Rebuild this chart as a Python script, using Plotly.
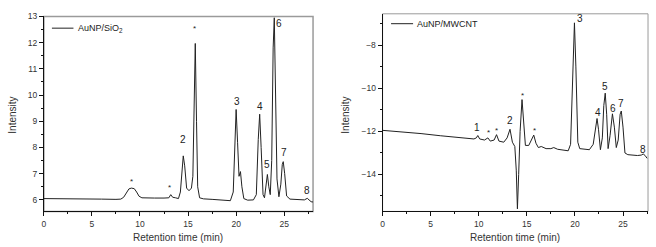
import plotly.graph_objects as go

# ---- data: AuNP/SiO2 chromatogram (left panel) ----
sio2_time = [0, 2, 4, 6, 7.5, 8.0, 8.3, 8.6, 8.85, 9.1, 9.4, 9.65, 9.9, 10.2, 10.6, 11.5, 12.5,
             13.0, 13.2, 13.4, 13.7, 14.0, 14.2, 14.35, 14.5, 14.65, 14.85, 15.1, 15.35, 15.5,
             15.62, 15.75, 15.88, 16.0, 16.2, 16.6, 17.5, 18.5, 19.4, 19.7, 19.85, 20.0, 20.15,
             20.3, 20.45, 20.6, 20.8, 21.2, 21.8, 22.1, 22.3, 22.45, 22.6, 22.8, 22.95, 23.1,
             23.25, 23.4, 23.55, 23.7, 23.85, 23.97, 24.1, 24.25, 24.45, 24.65, 24.8, 24.9,
             25.05, 25.25, 25.6, 26.5, 27.1, 27.4, 27.65, 27.8, 28.0]
sio2_int = [6.05, 6.05, 6.04, 6.03, 6.02, 6.03, 6.1, 6.3, 6.42, 6.45, 6.43, 6.3, 6.14, 6.08, 6.07,
            6.07, 6.07, 6.08, 6.2, 6.1, 6.08, 6.05, 6.3, 7.1, 7.68, 7.3, 6.45, 6.35, 6.45, 6.9,
            9.8, 11.97, 9.0, 6.5, 6.08, 6.04, 6.02, 5.99, 5.97, 6.3, 8.2, 9.45, 8.2, 6.9, 7.08,
            6.5, 6.05, 5.99, 6.0, 6.2, 8.3, 9.27, 8.0, 6.2, 6.08, 6.6, 6.97, 6.5, 6.2, 7.5, 11.8,
            12.95, 10.5, 6.8, 6.12, 6.6, 7.35, 7.46, 7.0, 6.15, 6.03, 6.0, 6.0, 6.06, 6.0, 5.93, 5.92]
sio2_labels = ["*", "*", "2", "*", "3", "4", "5", "6", "7", "8"]
sio2_label_x = [9.16, 13.1, 14.5, 15.7, 20.05, 22.48, 23.2, 24.45, 25.0, 27.4]
sio2_label_y = [6.72, 6.47, 8.32, 12.55, 9.74, 9.57, 7.34, 12.75, 7.8, 6.36]

# ---- data: AuNP/MWCNT chromatogram (right panel) ----
mwcnt_time = [0, 2, 4, 6, 8, 9.5, 9.75, 9.9, 10.1, 10.6, 10.95, 11.2, 11.6, 11.85, 12.1, 12.6,
              12.95, 13.25, 13.5, 13.75, 13.9, 14.02, 14.15, 14.3, 14.5, 14.65, 14.85, 15.2, 15.5,
              15.72, 15.95, 16.2, 16.5, 17.0, 17.5, 17.8, 18.2, 19.3, 19.55, 19.75, 19.95, 20.1,
              20.3, 20.5, 21.5, 21.9, 22.15, 22.3, 22.45, 22.65, 22.85, 23.0, 23.15, 23.3, 23.45,
              23.65, 23.9, 24.1, 24.3, 24.5, 24.7, 24.82, 25.0, 25.2, 25.5, 26.5, 26.9, 27.1,
              27.3, 27.5]
mwcnt_int = [-11.95, -12.02, -12.1, -12.2, -12.28, -12.35, -12.3, -12.19, -12.35, -12.4, -12.3,
             -12.45, -12.4, -12.15, -12.45, -12.5, -12.3, -11.9, -12.5, -12.7, -13.8, -15.6,
             -14.0, -12.0, -10.52, -11.5, -12.65, -12.65, -12.4, -12.17, -12.55, -12.75, -12.7,
             -12.8, -12.8, -12.75, -12.83, -12.9, -12.6, -9.5, -6.95, -9.0, -12.5, -12.8, -12.85,
             -12.6, -11.7, -11.4, -11.9, -12.85, -12.3, -10.8, -10.22, -11.2, -12.8, -12.2,
             -11.18, -11.8, -12.75, -12.4, -11.2, -11.05, -11.8, -13.0, -13.08, -13.12, -13.1,
             -13.05, -13.12, -13.25]
mwcnt_labels = ["1", "*", "*", "2", "*", "*", "3", "4", "5", "6", "7", "8"]
mwcnt_label_x = [9.84, 11.0, 11.86, 13.3, 14.54, 15.78, 20.48, 22.35, 23.17, 24.0, 24.83, 27.1]
mwcnt_label_y = [-11.81, -12.05, -11.95, -11.5, -10.35, -11.95, -6.75, -11.1, -9.9, -10.92, -10.68, -12.83]

FONT = "Liberation Sans, Arial, sans-serif"
LINE = "#222222"
TXT = "#333333"

fig = go.Figure()
fig.add_trace(go.Scatter(x=sio2_time, y=sio2_int, mode="lines", name="AuNP/SiO<sub>2</sub>",
                         line=dict(color=LINE, width=1), xaxis="x", yaxis="y", showlegend=False))
fig.add_trace(go.Scatter(x=mwcnt_time, y=mwcnt_int, mode="lines", name="AuNP/MWCNT",
                         line=dict(color=LINE, width=1), xaxis="x2", yaxis="y2", showlegend=False))

axis_common = dict(showline=True, linecolor="#111", linewidth=1, ticks="outside", ticklen=4,
                   tickcolor="#111", showgrid=False, zeroline=False,
                   tickfont=dict(family=FONT, size=8.5, color=TXT))
minor_common = dict(ticklen=2, ticks="outside", tickcolor="#111")

fig.update_layout(
    width=656, height=247, margin=dict(l=0, r=0, t=0, b=0),
    paper_bgcolor="white", plot_bgcolor="white", showlegend=False,
    xaxis=dict(domain=[0.064, 0.4756], range=[0, 28], tick0=0, dtick=5,
               minor=dict(dtick=2.5, **minor_common), anchor="y", **axis_common),
    yaxis=dict(domain=[0.147, 0.9526], range=[5.56, 13], tick0=6, dtick=1,
               minor=dict(dtick=0.5, **minor_common), anchor="x", **axis_common),
    xaxis2=dict(domain=[0.5819, 0.9878], range=[0, 27.6], tick0=0, dtick=5,
                minor=dict(dtick=2.5, **minor_common), anchor="y2", **axis_common),
    yaxis2=dict(domain=[0.147, 0.9636], range=[-15.72, -6.53], tick0=-14, dtick=2,
                minor=dict(dtick=1, **minor_common), anchor="x2", **axis_common),
)

# axis titles
title_font = dict(family=FONT, size=10, color=TXT)
for xc in (177 / 656, 515 / 656):
    fig.add_annotation(xref="paper", yref="paper", x=xc, y=1 - 237.5 / 247, text="Retention time (min)",
                       showarrow=False, xanchor="center", yanchor="middle", font=title_font)
for xc in (11 / 656, 345 / 656):
    fig.add_annotation(xref="paper", yref="paper", x=xc, y=1 - 112 / 247, text="Intensity", textangle=-90,
                       showarrow=False, xanchor="center", yanchor="middle", font=title_font)

# light frame (top/right) like the original
fig.add_shape(type="rect", xref="x domain", yref="y domain", x0=0, x1=1, y0=0, y1=1,
              line=dict(color="#9a9a9a", width=1.5), layer="below")
fig.add_shape(type="rect", xref="x2 domain", yref="y2 domain", x0=0, x1=1, y0=0, y1=1,
              line=dict(color="#9a9a9a", width=1), layer="below")

# legends (line sample + text)
fig.add_shape(type="line", xref="x domain", yref="y domain", x0=0.03, x1=0.11, y0=0.94, y1=0.94,
              line=dict(color=LINE, width=1))
fig.add_annotation(xref="x domain", yref="y domain", x=0.118, y=0.94, xanchor="left", yanchor="middle",
                   text="AuNP/SiO<sub>2</sub>", showarrow=False, font=dict(family=FONT, size=9, color="#222"))
fig.add_shape(type="line", xref="x2 domain", yref="y2 domain", x0=0.032, x1=0.115, y0=0.95, y1=0.95,
              line=dict(color=LINE, width=1))
fig.add_annotation(xref="x2 domain", yref="y2 domain", x=0.122, y=0.95, xanchor="left", yanchor="middle",
                   text="AuNP/MWCNT", showarrow=False, font=dict(family=FONT, size=9, color="#222"))

for t, xv, yv in zip(sio2_labels, sio2_label_x, sio2_label_y):
    fig.add_annotation(x=xv, y=yv, xref="x", yref="y", text=t, showarrow=False,
                       font=dict(family=FONT, size=8 if t == "*" else 10, color="#222"))
for t, xv, yv in zip(mwcnt_labels, mwcnt_label_x, mwcnt_label_y):
    fig.add_annotation(x=xv, y=yv, xref="x2", yref="y2", text=t, showarrow=False,
                       font=dict(family=FONT, size=8 if t == "*" else 10, color="#222"))

fig.write_html("out.html", config={"displayModeBar": False},
               post_script="document.body.style.margin='0';")
